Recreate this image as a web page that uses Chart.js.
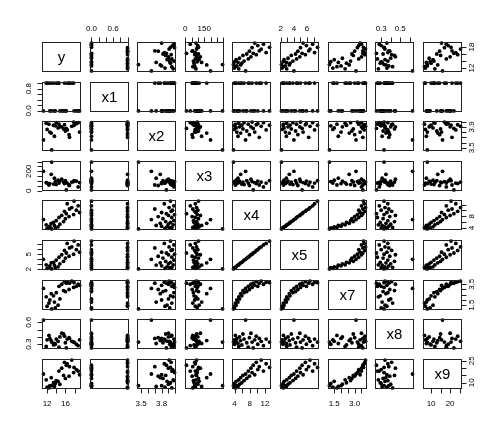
<!DOCTYPE html>
<html><head><meta charset="utf-8">
<script src="https://cdn.jsdelivr.net/npm/chart.js@4/dist/chart.umd.min.js"></script>
<style>
html,body{margin:0;padding:0;background:#fff;}
#wrap{position:relative;width:504px;height:432px;overflow:hidden;background:#fff;}
#wrap canvas{position:absolute;}
</style>
</head><body><div id="wrap"></div>
<script>
// ---- data (28 observations) ----
const varNames = ['y','x1','x2','x3','x4','x5','x7','x8','x9'];
const y  = [13.0,12.0,13.8,12.4,14.4,12.6,13.6,11.8,14.8,12.9,13.4,15.6,14.0,11.2,16.0,14.6,16.8,15.2,17.8,16.2,19.1,15.8,18.4,16.9,17.4,18.8,16.4,17.9];
const x1 = [0,1,0,1,1,0,0,1,0,1,1,0,1,0,0,1,1,0,1,0,0,1,0,1,1,0,1,0];
const x2 = [3.46,3.85,3.92,3.95,3.88,3.80,3.72,3.97,3.90,3.78,3.93,3.86,3.98,3.65,3.82,3.95,3.75,3.90,3.99,3.87,3.80,3.94,3.96,3.70,3.91,3.98,3.84,3.93];
const x3 = [295,80,95,60,110,75,130,85,100,170,70,90,65,200,105,80,55,120,95,10,85,75,100,60,90,40,80,105];
const x4 = [3.7,3.9,4.0,4.2,4.4,4.6,4.9,5.1,5.3,5.6,5.9,6.2,6.5,6.9,7.2,7.6,7.9,8.3,8.6,8.9,9.3,9.7,10.1,10.5,11.0,11.6,12.3,13.2];
const x5 = [2.1,2.2,2.35,2.4,2.5,2.7,2.85,2.9,3.1,3.3,3.4,3.6,3.85,4.0,4.25,4.4,4.6,4.9,5.0,5.25,5.4,5.75,5.9,6.25,6.45,6.85,7.15,7.6];
const x7 = [1.15,1.4,1.25,1.7,1.5,2.0,1.8,2.3,2.1,2.6,2.4,2.9,2.7,3.1,2.8,3.3,3.0,3.5,3.2,3.6,3.4,3.75,3.3,3.6,3.8,3.5,3.7,3.65];
const x8 = [0.33,0.36,0.30,0.42,0.34,0.38,0.31,0.27,0.40,0.35,0.29,0.44,0.37,0.63,0.32,0.26,0.39,0.45,0.33,0.25,0.36,0.41,0.30,0.38,0.34,0.28,0.37,0.33];
const x9 = [8,7,9.5,6.5,11,8,7.5,12,9,13.5,10,15,11.5,16,13,18,14.5,20,17,22,15.5,24,19,21,25.5,18,23,20.5];

// ---- tick values and tick labels per variable ----
const tickValues = [
  [12,14,16,18],
  [0,0.2,0.4,0.6,0.8,1.0],
  [3.5,3.6,3.7,3.8,3.9,4.0],
  [0,50,100,150,200,250,300],
  [4,6,8,10,12],
  [2,3,4,5,6,7],
  [1.5,2.0,2.5,3.0,3.5],
  [0.3,0.4,0.5,0.6],
  [10,15,20,25]
];
const horizLabels = [['12','16'],['0.0','0.6'],['3.5','3.8'],['0','150'],['4','8','12'],['2','4','6'],['1.5','3.0'],['0.3','0.5'],['10','20']];
const vertLabels  = [['12','18'],['0.0','0.8'],['3.5','3.9'],['0','200'],['4','8'],['2','5'],['1.5','3.5'],['0.3','0.6'],['10','25']];

const series = [y,x1,x2,x3,x4,x5,x7,x8,x9];

function extRange(a){
  const mn = Math.min(...a), mx = Math.max(...a), d = mx - mn;
  return [mn - 0.04*d, mx + 0.04*d];
}

const M = 28, X0 = 42, Y0 = 42, DX = 47.6, DY = 39.6, PW = 39, PH = 30;
const N = varNames.length;
const FONT = '"Liberation Sans", Arial, Helvetica, sans-serif';

const decoPlugin = {
  id: 'pairsDeco',
  afterDatasetsDraw(chart, args, opts) {
    const ctx = chart.ctx, ca = chart.chartArea;
    const r = opts.row, c = opts.col;
    ctx.save();
    ctx.strokeStyle = '#222';
    ctx.lineWidth = 1;
    ctx.strokeRect(ca.left + 0.5, ca.top + 0.5, ca.right - ca.left - 1, ca.bottom - ca.top - 1);
    if (r === c) {
      ctx.fillStyle = '#000';
      ctx.font = '15px ' + FONT;
      ctx.textAlign = 'center';
      ctx.textBaseline = 'middle';
      ctx.fillText(varNames[r], (ca.left + ca.right) / 2, (ca.top + ca.bottom) / 2 + 1);
    }
    ctx.font = '8px ' + FONT;
    ctx.fillStyle = '#000';
    const xs = chart.scales.x, ys = chart.scales.y;
    if (r === 0 && c % 2 === 1) {
      ctx.beginPath();
      tickValues[c].forEach(v => { const p = Math.round(xs.getPixelForValue(v)) + 0.5; ctx.moveTo(p, ca.top); ctx.lineTo(p, ca.top - 4.5); });
      ctx.stroke();
      ctx.textAlign = 'center'; ctx.textBaseline = 'middle';
      horizLabels[c].forEach(t => ctx.fillText(t, xs.getPixelForValue(parseFloat(t)), ca.top - 13));
    }
    if (r === N - 1 && c % 2 === 0) {
      ctx.beginPath();
      tickValues[c].forEach(v => { const p = Math.round(xs.getPixelForValue(v)) + 0.5; ctx.moveTo(p, ca.bottom); ctx.lineTo(p, ca.bottom + 4.5); });
      ctx.stroke();
      ctx.textAlign = 'center'; ctx.textBaseline = 'middle';
      horizLabels[c].forEach(t => ctx.fillText(t, xs.getPixelForValue(parseFloat(t)), ca.bottom + 15));
    }
    if (c === 0 && r % 2 === 1) {
      ctx.beginPath();
      tickValues[r].forEach(v => { const p = Math.round(ys.getPixelForValue(v)) + 0.5; ctx.moveTo(ca.left, p); ctx.lineTo(ca.left - 4.5, p); });
      ctx.stroke();
      ctx.textAlign = 'center'; ctx.textBaseline = 'middle';
      vertLabels[r].forEach(t => {
        ctx.save();
        ctx.translate(ca.left - 13.5, ys.getPixelForValue(parseFloat(t)));
        ctx.rotate(-Math.PI / 2);
        ctx.fillText(t, 0, 0);
        ctx.restore();
      });
    }
    if (c === N - 1 && r % 2 === 0) {
      ctx.beginPath();
      tickValues[r].forEach(v => { const p = Math.round(ys.getPixelForValue(v)) + 0.5; ctx.moveTo(ca.right, p); ctx.lineTo(ca.right + 4.5, p); });
      ctx.stroke();
      ctx.textAlign = 'center'; ctx.textBaseline = 'middle';
      vertLabels[r].forEach(t => {
        ctx.save();
        ctx.translate(ca.right + 9.5, ys.getPixelForValue(parseFloat(t)));
        ctx.rotate(-Math.PI / 2);
        ctx.fillText(t, 0, 0);
        ctx.restore();
      });
    }
    ctx.restore();
  }
};

const wrap = document.getElementById('wrap');
for (let r = 0; r < N; r++) {
  for (let c = 0; c < N; c++) {
    const left = Math.round(X0 + c * DX), top = Math.round(Y0 + r * DY);
    const cv = document.createElement('canvas');
    cv.width = PW + 2 * M; cv.height = PH + 2 * M;
    cv.style.left = (left - M) + 'px'; cv.style.top = (top - M) + 'px';
    cv.style.width = cv.width + 'px'; cv.style.height = cv.height + 'px';
    wrap.appendChild(cv);
    const xr = extRange(series[c]), yr = extRange(series[r]);
    const pts = r === c ? [] : series[c].map((v, i) => ({ x: v, y: series[r][i] }));
    new Chart(cv, {
      type: 'scatter',
      data: { datasets: [{ data: pts, pointRadius: 1.9, pointBackgroundColor: '#000', pointBorderWidth: 0, clip: false }] },
      options: {
        responsive: false, animation: false, devicePixelRatio: 1,
        layout: { padding: { left: M, right: M, top: M, bottom: M } },
        scales: {
          x: { type: 'linear', min: xr[0], max: xr[1], display: false },
          y: { type: 'linear', min: yr[0], max: yr[1], display: false }
        },
        plugins: { legend: { display: false }, tooltip: { enabled: false }, pairsDeco: { row: r, col: c } },
        events: []
      },
      plugins: [decoPlugin]
    });
  }
}
</script>
</body></html>
